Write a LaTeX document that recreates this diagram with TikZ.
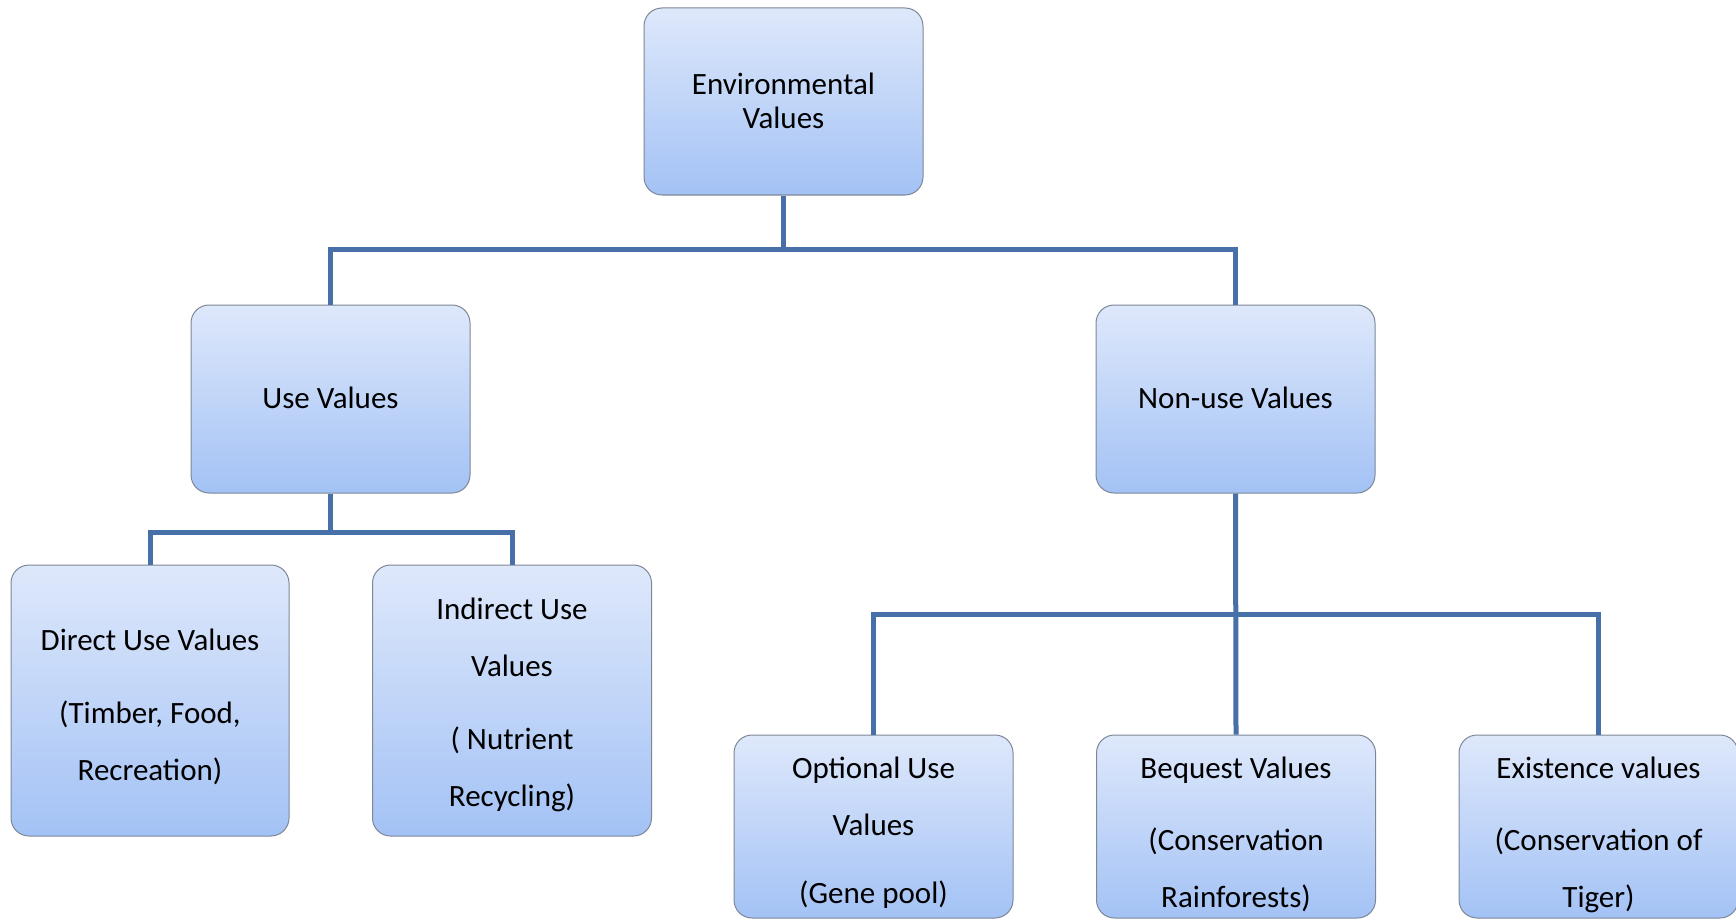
\documentclass[tikz,border=0pt]{standalone}
\usepackage{fontspec}
\setmainfont{Carlito}
\definecolor{boxtop}{RGB}{222,232,251}
\definecolor{boxbot}{RGB}{163,194,245}
\definecolor{boxedge}{RGB}{125,135,150}
\definecolor{connblue}{RGB}{72,112,168}
\tikzset{
  box/.style={draw=boxedge, line width=1pt, rounded corners=18pt,
    top color=boxtop, bottom color=boxbot, minimum width=279pt, inner sep=0pt},
  lbl/.style={font=\fontsize{31}{57}\selectfont, align=center, inner sep=0pt,
    anchor=north, text=black},
  conn/.style={draw=connblue, line width=5pt}
}
\newcommand{\fl}{\rule{0pt}{25pt}}
\begin{document}
\begin{tikzpicture}[x=1pt,y=-1pt]
\fill[white] (0,0) rectangle (1736,920);
\useasboundingbox (0,0) rectangle (1736,920);
\clip (0,0) rectangle (1736,920);
% boxes
\node[box, minimum height=187pt] (env) at (783.5,101.5) {};
\node[box, minimum height=188pt] (use) at (330.5,399) {};
\node[box, minimum height=188pt] (non) at (1235.5,399) {};
\node[box, minimum height=271pt, minimum width=278pt] (direct) at (150,700.5) {};
\node[box, minimum height=271pt] (indirect) at (512,700.5) {};
\node[box, minimum height=183pt] (optional) at (873.5,826.5) {};
\node[box, minimum height=183pt] (bequest) at (1236,826.5) {};
\node[box, minimum height=183pt] (existence) at (1598.5,826.5) {};
% texts
\node[lbl, font=\fontsize{31}{34}\selectfont] (envT) at (783.5,69) {\fl Environmental\\Values};
\node[lbl] (useT) at (330.5,383) {\fl Use Values};
\node[lbl] (nonT) at (1235.5,383) {\fl Non-use Values};
\node[lbl] (directT) at (150,625) {\fl Direct Use Values\\[16pt](Timber, Food,\\Recreation)};
\node[lbl] (indirectT) at (512,594) {\fl Indirect Use\\Values\\[16pt]( Nutrient\\Recycling)};
\node[lbl] (optionalT) at (873.5,753) {\fl Optional Use\\Values\\[11pt](Gene pool)};
\node[lbl] (bequestT) at (1236,753) {\fl Bequest Values\\[15pt](Conservation\\Rainforests)};
\node[lbl] (existenceT) at (1598.5,753) {\fl Existence values\\[15pt](Conservation of\\Tiger)};
% junctions
\coordinate (j1) at (783.5,249);
\coordinate (j2) at (330.5,532);
\coordinate (j3) at (1235.5,614);
% connectors
\draw[conn] (env.south) -- (j1);
\draw[conn] (use.north) |- (j1) -| (non.north);
\draw[conn] (use.south) -- (j2);
\draw[conn] (direct.north) |- (j2) -| (indirect.north);
\draw[conn] (non.south) -- (bequest.north);
\draw[conn] (optional.north) |- (j3) -| (existence.north);
\end{tikzpicture}
\end{document}
